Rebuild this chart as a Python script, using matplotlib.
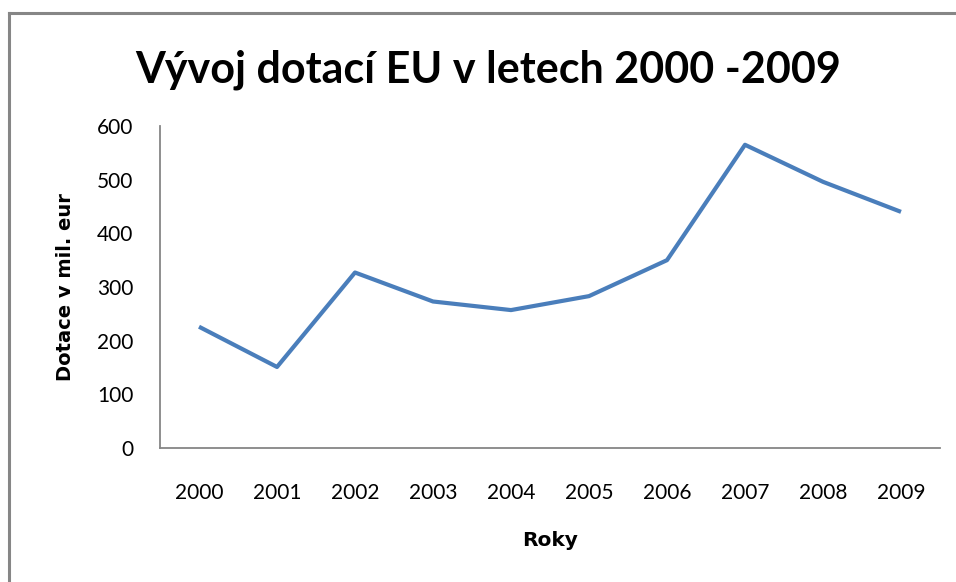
import matplotlib
matplotlib.use("Agg")
import matplotlib.pyplot as plt
from matplotlib.lines import Line2D

years = ["2000", "2001", "2002", "2003", "2004", "2005", "2006", "2007", "2008", "2009"]
dotace = [226, 151, 327, 273, 257, 283, 350, 565, 496, 440]
y_ticks = [0, 100, 200, 300, 400, 500, 600]

plt.rcParams["font.family"] = ["Lato", "DejaVu Sans"]

W, H = 956, 582
fig = plt.figure(figsize=(W / 100, H / 100), dpi=100)

# axes box in pixels: x 160..940, y 126..448
ax = fig.add_axes([160 / W, 1 - 448 / H, 780 / W, 322 / H])
x = list(range(len(years)))
ax.plot(x, dotace, color="#4a7ebb", lw=3.0, solid_joinstyle="round", solid_capstyle="butt")

ax.set_xlim(-0.5, len(years) - 0.5)
ax.set_ylim(0, 600)
ax.set_xticks(x)
ax.set_xticklabels(years)
ax.set_yticks(y_ticks)
ax.tick_params(length=0, labelsize=15, colors="black")
ax.tick_params(axis="x", pad=25)
ax.tick_params(axis="y", pad=19)
for side in ("top", "right"):
    ax.spines[side].set_visible(False)
for side in ("left", "bottom"):
    ax.spines[side].set_color("#868686")
    ax.spines[side].set_linewidth(1.3)

label_font = dict(family="DejaVu Sans", fontweight="bold")
ax.set_xlabel("Roky", fontsize=14.5, labelpad=20, **label_font)
ax.set_ylabel("Dotace v mil. eur", fontsize=14, labelpad=16, **label_font)

fig.text(488 / W, 1 - 70 / H, "Vývoj dotací EU v letech 2000 -2009",
         ha="center", va="center", fontsize=31, fontweight="bold")

# outer chart frame (top and left edges visible)
fig.add_artist(Line2D([8.5 / W, 1], [1 - 13 / H, 1 - 13 / H], color="#868686", lw=2.2,
                      transform=fig.transFigure))
fig.add_artist(Line2D([8.5 / W, 8.5 / W], [0, 1 - 13 / H], color="#868686", lw=2.2,
                      transform=fig.transFigure))

fig.savefig("out.png", dpi=100)
